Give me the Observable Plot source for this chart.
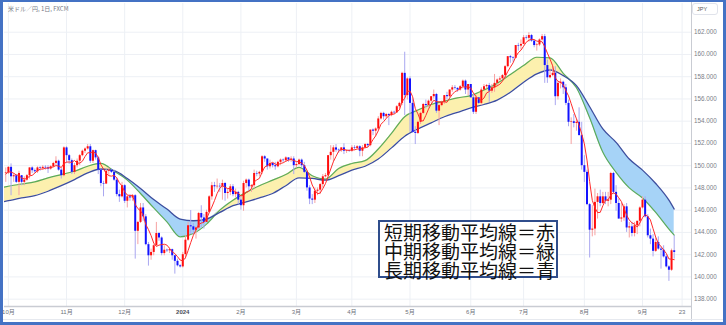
<!DOCTYPE html>
<html><head><meta charset="utf-8">
<script src="https://cdn.jsdelivr.net/npm/d3@7"></script>
<script src="https://cdn.jsdelivr.net/npm/@observablehq/plot@0.6"></script>
<style>
body{margin:0;background:#fff;}
#wrap{position:relative;width:726px;height:325px;overflow:hidden;background:#fff;}
#chart{position:absolute;left:0;top:0;}
.title{position:absolute;left:8px;top:4px;font:6px "Noto Sans CJK JP",sans-serif;color:#787b86;white-space:nowrap;}
.jpy{position:absolute;left:692px;top:3px;width:26px;height:12px;box-sizing:border-box;border:1px solid #e0e3eb;border-radius:3px;background:#fff;font:5.5px "Liberation Sans",sans-serif;color:#555;padding-left:4px;line-height:10px;}
.vsep{position:absolute;left:690.5px;top:0;width:1.5px;height:321px;background:#c9ccd3;}
.hbot{position:absolute;left:0;top:319px;width:726px;height:1px;background:#e6e9ef;}
.legend{position:absolute;left:378px;top:220px;width:180px;height:58px;box-sizing:border-box;border:2px solid #2f4d8c;background:#fff;font:19px "Noto Sans CJK JP",sans-serif;line-height:18.8px;padding:1px 0 0 4px;color:#111;white-space:nowrap;}
.border{position:absolute;left:0;top:0;width:726px;height:325px;box-sizing:border-box;border:3px solid #4472c4;border-top-width:2px;pointer-events:none;}
</style></head><body>
<div id="wrap">
<div id="chart"></div>
<div class="title">米ドル／円, 1日, FXCM</div>
<div class="jpy">JPY</div>
<div class="vsep"></div>
<div class="hbot"></div>
<div class="legend">短期移動平均線＝赤<br>中期移動平均線＝緑<br>長期移動平均線＝青</div>
<div class="border"></div>
</div>
<script>
// Daily candles, first = 2023-09-29, one per weekday
const openV = [149.3,
149.35,149.85,149.0,149.1,148.5,149.1,148.5,148.7,149.1,149.8,149.55,149.45,149.8,149.75,149.85,149.8,149.7,149.9,150.2,150.4,149.6,149.1,
151.6,150.9,150.45,149.4,150.0,150.4,150.9,151.3,151.5,151.7,150.4,151.35,150.7,149.6,148.4,148.35,149.5,149.6,149.4,148.7,147.4,147.2,
148.2,146.8,147.2,147.1,147.3,144.1,144.9,146.2,145.4,142.9,141.9,142.2,142.8,143.9,143.5,142.1,142.4,142.35,142.45,141.9,141.4,
141.0,140.9,142.0,143.3,144.6,144.5,144.2,144.4,145.7,145.3,144.9,145.8,147.2,148.2,148.1,148.15,148.1,148.4,147.5,147.6,148.1,147.4,147.6,
146.9,146.4,148.4,148.7,148.1,148.2,149.3,149.25,149.4,150.8,150.6,149.9,150.2,150.0,149.9,150.3,150.5,150.45,150.7,150.5,150.6,
150.0,150.1,150.5,150.0,149.4,148.0,147.0,146.9,147.7,147.8,148.3,149.0,149.1,150.9,151.2,151.6,151.4,151.35,151.6,151.3,151.35,
151.3,151.6,151.55,151.7,151.3,151.6,151.9,151.8,153.2,153.1,153.3,154.2,154.7,154.4,154.6,154.5,154.8,154.75,155.3,155.6,158.3,156.3,
157.8,155.6,153.0,152.9,153.9,154.7,155.5,155.4,155.8,156.2,156.4,154.9,155.4,155.7,156.3,156.2,156.8,157.0,156.95,156.8,157.1,157.6,156.8,
157.3,156.1,154.8,156.1,155.6,156.8,157.1,157.2,156.7,157.0,157.4,157.7,157.8,158.1,158.9,159.8,159.7,159.65,160.8,160.75,
160.9,161.5,161.45,161.7,161.2,160.8,160.85,161.3,161.6,159.0,157.9,158.1,158.3,156.2,157.4,157.5,157.0,155.6,153.9,153.95,153.8,153.9,152.7,
150.0,149.4,146.5,144.2,144.3,146.7,147.2,146.6,147.2,146.8,146.9,149.3,147.6,146.6,145.2,145.3,146.3,144.4,144.5,143.9,144.6,145.0,
146.2,146.9,145.4,143.7,143.4,142.3,143.1,142.5,142.4,141.8,140.9,140.6,142.35];
const highV = [149.8,
149.9,150.16,149.3,149.2,149.5,149.1,149.0,149.2,149.8,149.9,149.7,149.9,149.9,150.0,150.0,150.0,150.0,150.3,150.8,150.5,149.8,151.7,
151.7,151.0,150.6,150.2,150.6,151.0,151.4,151.6,151.9,151.9,151.4,151.4,150.8,149.7,148.6,149.7,149.8,149.7,149.6,148.9,147.8,148.5,
148.3,147.3,147.4,147.4,147.4,145.0,146.6,146.6,145.6,143.1,142.5,142.9,144.9,144.0,143.6,142.8,142.5,142.6,142.5,141.9,141.6,
141.1,142.2,143.7,144.9,145.97,144.8,144.5,145.8,146.4,145.6,146.0,147.3,148.5,148.5,148.8,148.4,148.7,148.5,147.9,148.3,148.3,147.9,147.7,
147.2,148.6,148.8,148.8,148.3,149.6,149.5,149.5,150.9,150.9,150.6,150.5,150.2,150.3,150.4,150.6,150.6,150.8,150.7,150.8,150.8,
150.3,150.6,150.6,150.3,149.5,148.2,147.4,148.0,148.0,148.4,149.2,149.3,150.9,151.8,151.8,151.9,151.5,151.6,151.97,151.4,151.4,
151.8,151.8,151.8,151.8,151.8,152.0,152.0,153.2,153.3,153.4,154.4,154.8,154.8,154.7,154.7,154.9,154.9,155.4,155.7,158.4,160.2,157.9,
158.0,156.0,153.5,154.0,154.8,155.6,155.9,155.9,156.2,156.8,156.5,155.5,155.8,156.3,156.6,156.8,157.2,157.2,157.0,157.2,157.7,157.7,157.3,
157.3,156.4,156.3,156.1,157.0,157.3,157.3,157.4,157.3,158.2,157.8,158.0,158.2,159.0,159.8,159.9,159.8,160.8,161.0,161.3,
161.7,161.7,161.95,161.8,161.3,161.0,161.4,161.8,161.8,159.5,158.7,158.9,158.9,157.6,157.8,157.6,157.3,155.9,154.3,154.6,154.2,155.2,153.9,
150.9,149.6,146.6,146.4,147.9,147.5,147.8,147.6,147.6,147.6,149.4,149.4,148.2,147.0,146.6,146.5,146.6,144.9,144.9,144.9,145.0,146.3,
147.2,147.2,145.6,144.3,143.8,143.5,143.6,142.7,142.8,142.0,141.0,142.5,143.7];
const lowV = [148.5,
149.2,147.3,148.5,148.4,147.3,148.2,148.2,148.6,148.8,149.3,149.3,149.3,149.5,149.6,149.6,149.3,149.6,149.8,150.0,149.5,148.8,149.0,
150.2,150.1,149.2,149.2,149.8,150.0,150.8,151.1,151.4,150.2,150.2,150.5,149.2,148.1,147.2,148.3,149.1,149.3,148.6,147.2,146.7,147.1,
146.6,146.2,146.8,146.8,141.6,142.9,144.8,145.0,142.8,140.97,141.5,141.9,142.8,143.2,141.9,141.9,142.2,142.1,141.5,140.25,140.9,
140.8,140.8,141.6,143.2,143.8,143.8,143.4,144.3,144.4,144.3,144.9,145.7,146.9,147.6,147.9,147.6,146.9,146.8,147.0,147.3,147.2,147.1,146.5,
146.0,145.9,148.0,147.6,147.6,147.9,149.0,149.0,149.2,150.3,149.6,149.7,149.8,149.6,149.8,150.0,150.3,150.3,150.3,150.3,149.2,
149.8,150.0,149.8,149.3,147.7,146.5,146.5,146.6,147.3,147.4,148.0,148.9,149.0,150.5,150.3,151.2,151.1,151.2,151.0,151.1,151.2,
151.2,151.4,151.5,150.8,150.8,151.5,151.6,151.7,152.7,152.6,153.1,154.1,154.1,154.2,153.6,154.4,154.6,154.7,155.1,155.4,154.5,155.9,
153.0,152.9,151.9,152.8,153.7,154.6,155.1,155.2,155.6,156.0,154.7,153.6,155.3,155.5,155.9,156.1,156.6,156.8,156.6,156.7,156.9,156.4,156.3,
156.1,154.6,154.6,155.5,155.4,156.8,156.9,155.7,156.5,156.6,157.1,157.6,157.8,157.9,158.8,159.2,159.3,159.6,160.3,160.4,
160.9,161.3,161.1,161.1,160.6,160.3,160.7,161.2,157.4,157.4,157.8,158.0,155.4,155.9,156.9,156.4,155.4,153.5,151.9,153.4,153.1,152.7,149.6,
148.5,146.4,141.7,143.6,143.7,145.2,146.3,146.5,146.5,146.3,146.5,147.4,145.9,145.2,144.9,145.0,144.0,143.5,143.6,143.6,143.8,144.5,
146.1,145.3,143.5,142.9,141.8,142.2,142.4,140.7,141.7,140.8,139.6,140.5,141.6];
const closeV = [149.35,
149.85,149.0,149.1,148.5,149.3,148.5,148.7,149.1,149.8,149.55,149.45,149.8,149.75,149.85,149.8,149.7,149.9,150.2,150.4,149.6,149.1,151.6,
150.9,150.45,149.4,150.0,150.4,150.9,151.3,151.5,151.7,150.4,151.35,150.7,149.6,148.4,148.35,149.5,149.6,149.4,148.7,147.4,147.2,148.2,
146.8,147.2,147.1,147.3,144.1,144.9,146.2,145.4,142.9,141.9,142.2,142.8,143.9,143.5,142.1,142.4,142.35,142.45,141.9,141.4,141.0,
140.9,142.0,143.3,144.6,144.5,144.2,144.4,145.7,145.3,144.9,145.8,147.2,148.2,148.1,148.15,148.1,148.4,147.5,147.6,148.1,147.4,147.6,146.9,
146.4,148.4,148.7,148.1,148.2,149.3,149.25,149.4,150.8,150.6,149.9,150.2,150.0,149.9,150.3,150.5,150.45,150.7,150.5,150.6,150.0,
150.1,150.5,150.0,149.4,148.0,147.0,146.9,147.7,147.8,148.3,149.0,149.1,150.9,151.2,151.6,151.4,151.35,151.6,151.3,151.35,151.3,
151.6,151.55,151.7,151.3,151.6,151.9,151.8,153.2,153.1,153.3,154.2,154.7,154.4,154.6,154.5,154.8,154.75,155.3,155.6,158.3,156.3,157.8,
155.6,153.0,152.9,153.9,154.7,155.5,155.4,155.8,156.2,156.4,154.9,155.4,155.7,156.3,156.2,156.8,157.0,156.95,156.8,157.1,157.6,156.8,157.3,
156.1,154.8,156.1,155.6,156.8,157.1,157.2,156.7,157.0,157.4,157.7,157.8,158.1,158.9,159.8,159.7,159.65,160.8,160.75,160.9,
161.5,161.45,161.7,161.2,160.8,160.85,161.3,161.6,159.0,157.9,158.1,158.3,156.2,157.4,157.5,157.0,155.6,153.9,153.95,153.8,153.9,152.7,150.0,
149.4,146.5,144.2,144.3,146.7,147.2,146.6,147.2,146.8,146.9,149.3,147.6,146.6,145.2,145.3,146.3,144.4,144.5,143.9,144.6,145.0,146.2,
146.9,145.4,143.7,143.4,142.3,143.1,142.5,142.4,141.8,140.9,140.6,142.35,142.2];
// short moving average (red), one value per candle
const shortMA = [149.25,
149.44,149.43,149.32,149.16,149.15,148.88,148.82,148.82,149.08,149.13,149.33,149.55,149.69,149.70,149.76,149.80,149.82,149.90,150.01,149.96,149.84,150.18,
150.32,150.33,150.29,150.47,150.23,150.23,150.40,150.82,151.16,151.16,151.25,151.13,150.75,150.09,149.69,149.32,149.10,149.06,149.12,148.92,148.46,148.18,
147.66,147.36,147.32,147.34,146.52,146.14,145.94,145.58,144.70,144.26,143.72,143.04,142.74,142.86,142.90,142.94,142.86,142.56,142.24,142.10,141.82,
141.52,141.44,141.72,142.36,143.08,143.74,144.22,144.70,144.84,144.90,145.22,145.78,146.28,146.86,147.50,147.96,148.20,148.06,147.94,147.94,147.80,147.64,147.52,
147.28,147.34,147.60,147.70,147.96,148.54,148.72,148.86,149.40,149.88,150.00,150.18,150.30,150.14,150.08,150.20,150.26,150.40,150.50,150.56,150.46,
150.38,150.34,150.24,150.00,149.60,148.98,148.26,147.80,147.48,147.54,147.94,148.38,149.02,149.70,150.36,150.84,151.30,151.44,151.46,151.40,151.38,
151.42,151.42,151.50,151.50,151.56,151.62,151.66,151.96,152.34,152.68,153.14,153.72,153.96,154.24,154.50,154.62,154.64,154.82,155.02,155.76,156.06,156.66,
156.72,156.20,155.14,154.66,154.04,154.02,154.52,155.08,155.54,155.88,155.76,155.74,155.72,155.74,155.70,156.08,156.40,156.66,156.76,156.94,157.10,157.06,157.12,
156.98,156.52,156.22,155.98,155.88,156.08,156.54,156.66,156.94,157.06,157.18,157.32,157.60,157.98,158.46,158.86,159.24,159.78,160.16,160.38,
160.74,161.10,161.28,161.36,161.34,161.20,161.16,161.14,160.70,160.12,159.58,158.98,157.90,157.58,157.50,157.28,156.74,156.28,155.58,154.84,154.22,153.64,152.86,
151.96,150.50,148.56,146.88,146.22,145.78,145.80,146.40,146.90,146.94,147.36,147.56,147.44,147.12,146.78,146.18,145.54,145.12,144.86,144.74,144.48,144.84,
145.32,145.62,145.44,145.12,144.34,143.58,143.00,142.74,142.42,142.12,141.62,141.59,141.55];
// medium (green) and long (blue) moving averages, sampled weekly
const maDates = ["2023-09-28","2023-10-02","2023-10-09","2023-10-16","2023-10-23","2023-10-30","2023-11-06","2023-11-13","2023-11-20","2023-11-27","2023-12-04","2023-12-11","2023-12-18","2023-12-25",
"2024-01-01","2024-01-08","2024-01-15","2024-01-22","2024-01-29","2024-02-05","2024-02-12","2024-02-19","2024-02-26","2024-03-04","2024-03-11","2024-03-18","2024-03-25",
"2024-04-01","2024-04-08","2024-04-15","2024-04-22","2024-04-29","2024-05-06","2024-05-13","2024-05-20","2024-05-27","2024-06-03","2024-06-10","2024-06-17","2024-06-24",
"2024-07-01","2024-07-08","2024-07-15","2024-07-22","2024-07-29","2024-08-05","2024-08-12","2024-08-19","2024-08-26","2024-09-02","2024-09-09","2024-09-16","2024-09-18"];
const midMA = [148.05,148.15,148.35,148.55,148.9,149.2,149.5,149.95,150.2,149.5,148.7,147.5,146.2,144.95,
143.6,143.9,144.75,146.0,146.9,147.6,148.2,148.7,149.2,149.85,149.1,148.8,149.75,
150.2,150.45,151.5,152.9,154.4,155.0,155.5,155.8,156.1,156.3,156.8,157.4,158.2,
159.0,159.75,159.7,158.3,157.0,154.3,151.2,149.4,148.0,147.1,145.8,144.3,143.75];
const longMA = [146.75,146.85,147.1,147.3,147.7,148.2,148.75,149.35,149.7,149.55,148.85,147.95,146.95,146.1,
145.2,145.05,145.2,145.8,146.4,146.75,147.1,147.5,148.2,148.9,148.85,148.7,149.1,
149.6,149.95,150.6,151.6,152.65,153.3,153.85,154.4,154.8,155.2,155.5,155.9,156.6,
157.5,158.25,158.6,158.1,157.2,155.3,153.3,152.1,150.6,149.6,148.4,146.9,146.1];
const tickDates = ["2023-10-02","2023-11-01","2023-12-01","2024-01-02","2024-02-01","2024-03-01","2024-04-01","2024-05-01","2024-06-03","2024-07-01","2024-08-01","2024-09-02","2024-09-23"];
const tickLabels = ["10月","11月","12月","2024","2月","3月","4月","5月","6月","7月","8月","9月","23"];
const yTicks = [138,140,142,144,146,148,150,152,154,156,158,160,162];

// bar index on a weekday (trading-day) axis, 0 = 2023-10-02
const base = Date.UTC(2023, 9, 2);
function barIndex(d) {
  const diff = Math.round((d - base) / 86400000);
  const w = Math.floor(diff / 7), r = diff - 7 * w;
  return 5 * w + Math.min(r, 5);
}
const dates = [];
for (let t = Date.UTC(2023, 8, 29); dates.length < closeV.length; t += 86400000) {
  const d = new Date(t), wd = d.getUTCDay();
  if (wd !== 0 && wd !== 6) dates.push(d);
}
const candles = dates.map((d, k) => ({i: barIndex(d), o: openV[k], h: highV[k], l: lowV[k], c: closeV[k], ma: shortMA[k]}));
const maRows = maDates.map((s, k) => ({i: barIndex(new Date(s + "T00:00:00Z")), g: midMA[k], b: longMA[k], top: Math.max(midMA[k], longMA[k])}));
const ticks = tickDates.map((s, k) => ({i: barIndex(new Date(s + "T00:00:00Z")), label: tickLabels[k]}));
const upCol = "#ff0d0d", dnCol = "#1212ff";

const chart = Plot.plot({
  width: 726, height: 325,
  marginLeft: 4, marginRight: 35, marginTop: 3, marginBottom: 19,
  style: {background: "transparent", fontFamily: "'Liberation Sans','Noto Sans CJK JP',sans-serif"},
  x: {type: "linear", domain: [-1.48, 258.55], axis: null},
  y: {domain: [137.34, 164.58], axis: null},
  marks: [
    Plot.gridY(yTicks, {stroke: "#edf0f5", strokeOpacity: 1}),
    Plot.gridX(ticks.map(t => t.i), {stroke: "#edf0f5", strokeOpacity: 1}),
    Plot.areaY(maRows, {x: "i", y1: "b", y2: "top", fill: "#fcf0ae", curve: "monotone-x", clip: true}),
    Plot.areaY(maRows, {x: "i", y1: "g", y2: "top", fill: "#a6d3f7", curve: "monotone-x", clip: true}),
    Plot.lineY(maRows, {x: "i", y: "g", stroke: "#5cab5c", strokeWidth: 1.2, curve: "monotone-x", clip: true}),
    Plot.lineY(maRows, {x: "i", y: "b", stroke: "#3d4e9e", strokeWidth: 1.3, curve: "monotone-x", clip: true}),
    Plot.ruleX(candles, {x: "i", y1: "l", y2: "h", stroke: d => d.c >= d.o ? "#f6a2a2" : "#a9a7f0", strokeWidth: 1, clip: true}),
    Plot.ruleX(candles, {x: "i", y1: "o", y2: "c", stroke: d => d.c >= d.o ? upCol : dnCol, strokeWidth: 2, clip: true}),
    Plot.lineY(candles, {x: "i", y: "ma", stroke: "#ff2b2b", strokeWidth: 1, clip: true}),
    Plot.ruleY([137.34], {stroke: "#c9ccd3", strokeWidth: 1.5}),
    Plot.text(yTicks, {y: d => d, text: d => d.toFixed(3), frameAnchor: "right", dx: 2.5, textAnchor: "start", fontSize: 6.3, fill: "#7b7e87"}),
    Plot.text(ticks.filter(t => t.label !== "2024"), {x: "i", text: "label", frameAnchor: "bottom", dy: 7, fontSize: 6, fill: "#6e717a"}),
    Plot.text(ticks.filter(t => t.label === "2024"), {x: "i", text: "label", frameAnchor: "bottom", dy: 7, fontSize: 6, fontWeight: "bold", fill: "#4a4d57"})
  ]
});
document.getElementById("chart").appendChild(chart);
</script>
</body></html>
